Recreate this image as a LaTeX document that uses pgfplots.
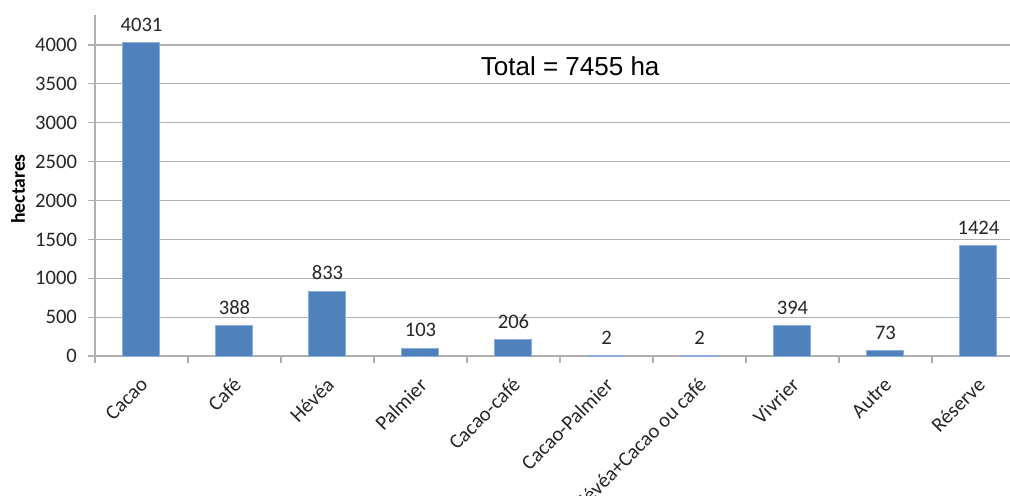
\documentclass[border=0pt]{standalone}
\usepackage{pgfplots}
\pgfplotsset{compat=1.18}
\usepackage{fontspec}
\setmainfont{Carlito}
\newfontfamily\arialfont{Liberation Sans}
\definecolor{barblue}{HTML}{4F81BD}
\definecolor{baredge}{HTML}{8CAEDB}
\definecolor{gridgray}{HTML}{B0B0B0}
\definecolor{txt}{HTML}{262626}
\begin{document}
\begin{tikzpicture}
\useasboundingbox (-47.5pt,-69.5pt) rectangle (457.5pt,178pt);
\begin{axis}[
  at={(0,0)}, anchor=south west,
  scale only axis, width=457.5pt, height=170.5pt,
  xmin=-0.5, xmax=9.339, ymin=0, ymax=4386,
  /pgf/number format/1000 sep={},
  /pgf/number format/assume math mode=true,
  ytick={0,500,...,4000},
  ymajorgrids, grid style={gridgray, line width=0.6pt},
  axis x line*=bottom, axis y line*=left,
  axis line style={gridgray, line width=0.8pt, -},
  tick align=outside, major tick length=3.5pt,
  tick style={gridgray, line width=0.6pt},
  xtick={-0.5,0.5,...,9.5}, xticklabels={{},{},{},{},{},{},{},{},{},{},{}},
  extra x ticks={0,1,2,3,4,5,6,7,8,9},
  extra x tick labels={Cacao,Café,Hévéa,Palmier,Cacao-café,Cacao-Palmier,Hévéa+Cacao ou café,Vivrier,Autre,Réserve},
  extra x tick style={major tick length=0pt, grid=none,
    xticklabel style={rotate=45, anchor=north east, yshift=-3pt, xshift=-4.5pt}},
  ticklabel style={font=\fontsize{10.3}{12}\selectfont, text=txt},
  yticklabel style={xshift=-2pt},
  ylabel={hectares},
  ylabel style={font=\bfseries\fontsize{9.8}{11}\selectfont, text=black, at={(axis description cs:-0.084,0.49)}, anchor=center},
  ybar, bar width=18.5pt,
  nodes near coords,
  nodes near coords style={font=\fontsize{10.3}{12}\selectfont, text=txt, yshift=2pt},
]
\addplot[fill=barblue, draw=baredge, line width=0.5pt] coordinates {
  (0,4031) (1,388) (2,833) (3,103) (4,206) (5,2) (6,2) (7,394) (8,73) (9,1424)
};
\node[font=\arialfont\fontsize{13}{15}\selectfont, text=black] at (axis cs:4.61,3730) {Total = 7455 ha};
\end{axis}
\end{tikzpicture}
\end{document}
